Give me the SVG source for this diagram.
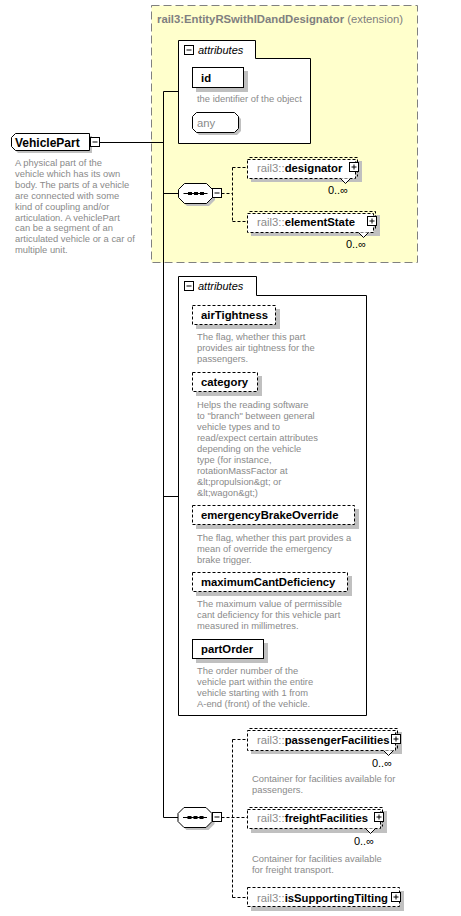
<svg xmlns="http://www.w3.org/2000/svg" width="461" height="916" viewBox="0 0 461 916">
<style>
text{font-family:"Liberation Sans",Arial,sans-serif}
.desc{font-size:9.4px;fill:#8a8a8a}
.lbl{font-size:11.3px;font-weight:bold;fill:#000}
.pfx{font-weight:normal;fill:#8a8a8a}
.mult{font-size:11px;fill:#000}
.ital{font-size:11px;font-style:italic;fill:#000}
.shd{fill:#c0c0c0;stroke:none}
.box{fill:#fff;stroke:#000;stroke-width:1}
.dbox{fill:#fff;stroke:#000;stroke-width:1;stroke-dasharray:3,2}
.ln{fill:none;stroke:#000;stroke-width:1}
.dln{fill:none;stroke:#000;stroke-width:1;stroke-dasharray:3,2}
.ico{fill:#fff;stroke:#000;stroke-width:1}
</style>
<defs>
<g id="minus"><rect class="ico" x="0.5" y="0.5" width="9" height="9"/><path class="ln" d="M2.5,5 H7.5"/></g>
<g id="plus"><rect class="ico" x="0.5" y="0.5" width="9" height="9"/><path class="ln" d="M2.5,5 H7.5 M5,2.5 V7.5"/></g>
<g id="seq">
<path class="shd" d="M9,3 H31 L37,9 V17 L31,23 H9 L3,17 V9 Z"/>
<path class="box" d="M6.5,0.5 H28.5 L34.5,6.5 V14.5 L28.5,20.5 H6.5 L0.5,14.5 V6.5 Z"/>
<path class="ln" d="M5.5,10.5 H29.5"/>
<rect x="10" y="9" width="4" height="3" fill="#000"/>
<rect x="16" y="9" width="4" height="3" fill="#000"/>
<rect x="22" y="9" width="4" height="3" fill="#000"/>
</g>
</defs>

<g id="extension">
<rect x="151.5" y="5.5" width="266" height="257" fill="#ffffcc" stroke="#808080" stroke-width="1" stroke-dasharray="8,4"/>
<text x="157" y="23" style="font-size:11.3px;font-weight:bold;fill:#808080">rail3:EntityRSwithIDandDesignator<tspan style="font-weight:normal"> (extension)</tspan></text>
</g>

<g id="connectors">
<path class="ln" d="M99.5,142.5 H163.5 M163.5,91.5 V817.5 H178 M163.5,91.5 H178.5 M163.5,193.5 H178.5 M163.5,496.5 H178.5"/>
<path class="dln" d="M221.5,193.5 H232.5 M232.5,167.5 V221.5 M232.5,167.5 H247.5 M232.5,221.5 H247.5"/>
<path class="dln" d="M221.5,817.5 H247.5 M232.5,739.5 V897.5 M232.5,739.5 H247.5 M232.5,897.5 H247.5"/>
</g>

<g id="VehiclePart">
<path class="shd" d="M18,136 H92 V153 H18 L14,149 V140 Z"/>
<path class="box" d="M15.5,133.5 H89.5 V150.5 H15.5 L11.5,146.5 V137.5 Z"/>
<text x="15" y="147" style="font-size:12px;font-weight:bold;fill:#000">VehiclePart</text>
<use href="#minus" x="90" y="137"/>
<text class="desc" x="15"><tspan x="15" y="166">A physical part of the</tspan><tspan x="15" y="177">vehicle which has its own</tspan><tspan x="15" y="188">body. The parts of a vehicle</tspan><tspan x="15" y="198.5">are connected with some</tspan><tspan x="15" y="209.5">kind of coupling and/or</tspan><tspan x="15" y="220.5">articulation. A vehiclePart</tspan><tspan x="15" y="231">can be a segment of an</tspan><tspan x="15" y="242">articulated vehicle or a car of</tspan><tspan x="15" y="253">multiple unit.</tspan></text>
</g>

<g id="attributes1">
<path class="box" d="M178.5,143.5 V40.5 H255.5 V58.5 H310.5 V143.5 Z"/>
<use href="#minus" x="184" y="45"/>
<text class="ital" x="198" y="54">attributes</text>
</g>

<g id="id">
<rect class="shd" x="196" y="71" width="52" height="21"/>
<rect class="box" x="192.5" y="67.5" width="51" height="20"/>
<text class="lbl" x="201" y="82">id</text>
<text class="desc" x="197" y="102">the identifier of the object</text>
</g>

<g id="any">
<path class="shd" d="M199,115 H237 L241,119 V131 L237,135 H199 L195,131 V119 Z"/>
<path class="box" d="M196.5,112.5 H234.5 L238.5,116.5 V128.5 L234.5,132.5 H196.5 L192.5,128.5 V116.5 Z"/>
<text x="197" y="127" style="font-size:11.3px;fill:#8a8a8a">any</text>
</g>

<g id="sequence1">
<use href="#seq" x="178" y="183"/>
<use href="#minus" x="212" y="188"/>
</g>

<g id="designator">
<rect class="shd" x="251" y="161" width="111" height="21"/>
<path class="dln" d="M249.5,157.5 H357.5 V176.5"/>
<rect class="dbox" x="247.5" y="159.5" width="108" height="19"/>
<text class="lbl" x="257" y="172"><tspan class="pfx">rail3::</tspan>designator</text>
<use href="#plus" x="349" y="162"/>
<path class="box" d="M340.5,178.5 L345.5,183.5 L350.5,178.5"/>
<text class="mult" x="348" y="194" text-anchor="end">0..∞</text>
</g>

<g id="elementState">
<rect class="shd" x="251" y="215" width="129" height="21"/>
<path class="dln" d="M249.5,211.5 H375.5 V230.5"/>
<rect class="dbox" x="247.5" y="213.5" width="126" height="19"/>
<text class="lbl" x="257" y="226"><tspan class="pfx">rail3::</tspan>elementState</text>
<use href="#plus" x="367" y="216"/>
<path class="box" d="M358.5,232.5 L363.5,237.5 L368.5,232.5"/>
<text class="mult" x="366" y="248" text-anchor="end">0..∞</text>
</g>

<g id="attributes2">
<path class="box" d="M178.5,715.5 V276.5 H256.5 V295.5 H366.5 V715.5 Z"/>
<use href="#minus" x="184" y="281"/>
<text class="ital" x="198" y="290">attributes</text>
</g>

<g id="airTightness">
<rect class="shd" x="196" y="309" width="84" height="20"/>
<rect class="dbox" x="192.5" y="305.5" width="83" height="19"/>
<text class="lbl" x="201" y="319">airTightness</text>
<text class="desc"><tspan x="197" y="340">The flag, whether this part</tspan><tspan x="197" y="351">provides air tightness for the</tspan><tspan x="197" y="362">passengers.</tspan></text>
</g>

<g id="category">
<rect class="shd" x="196" y="376" width="66" height="20"/>
<rect class="dbox" x="192.5" y="372.5" width="65" height="19"/>
<text class="lbl" x="201" y="386">category</text>
<text class="desc"><tspan x="197" y="408">Helps the reading software</tspan><tspan x="197" y="419">to "branch" between general</tspan><tspan x="197" y="429.5">vehicle types and to</tspan><tspan x="197" y="440.5">read/expect certain attributes</tspan><tspan x="197" y="451.5">depending on the vehicle</tspan><tspan x="197" y="462.5">type (for instance,</tspan><tspan x="197" y="473.5">rotationMassFactor at</tspan><tspan x="197" y="484.5">&amp;lt;propulsion&amp;gt; or</tspan><tspan x="197" y="495.5">&amp;lt;wagon&amp;gt;)</tspan></text>
</g>

<g id="emergencyBrakeOverride">
<rect class="shd" x="196" y="509" width="163" height="20"/>
<rect class="dbox" x="192.5" y="505.5" width="162" height="19"/>
<text class="lbl" x="201" y="519">emergencyBrakeOverride</text>
<text class="desc"><tspan x="197" y="541">The flag, whether this part provides a</tspan><tspan x="197" y="552">mean of override the emergency</tspan><tspan x="197" y="562.5">brake trigger.</tspan></text>
</g>

<g id="maximumCantDeficiency">
<rect class="shd" x="196" y="576" width="156" height="20"/>
<rect class="dbox" x="192.5" y="572.5" width="155" height="19"/>
<text class="lbl" x="201" y="586">maximumCantDeficiency</text>
<text class="desc"><tspan x="197" y="607">The maximum value of permissible</tspan><tspan x="197" y="618">cant deficiency for this vehicle part</tspan><tspan x="197" y="629">measured in millimetres.</tspan></text>
</g>

<g id="partOrder">
<rect class="shd" x="196" y="643" width="72" height="20"/>
<rect class="box" x="192.5" y="639.5" width="71" height="19"/>
<text class="lbl" x="201" y="653">partOrder</text>
<text class="desc"><tspan x="197" y="674">The order number of the</tspan><tspan x="197" y="685">vehicle part within the entire</tspan><tspan x="197" y="696">vehicle starting with 1 from</tspan><tspan x="197" y="707">A-end (front) of the vehicle.</tspan></text>
</g>

<g id="sequence2">
<use href="#seq" x="177.5" y="807"/>
<use href="#minus" x="212" y="812"/>
</g>

<g id="passengerFacilities">
<rect class="shd" x="251" y="732" width="151" height="22"/>
<path class="dln" d="M249.5,728.5 H397.5 V748.5"/>
<rect class="dbox" x="247.5" y="730.5" width="148" height="20"/>
<text class="lbl" x="257" y="744"><tspan class="pfx">rail3::</tspan>passengerFacilities</text>
<use href="#plus" x="391" y="734"/>
<path class="box" d="M383.5,750.5 L388.5,755.5 L393.5,750.5"/>
<text class="mult" x="392" y="767" text-anchor="end">0..∞</text>
<text class="desc"><tspan x="252" y="782">Container for facilities available for</tspan><tspan x="252" y="793">passengers.</tspan></text>
</g>

<g id="freightFacilities">
<rect class="shd" x="251" y="811" width="136" height="22"/>
<path class="dln" d="M249.5,807.5 H382.5 V826.5"/>
<rect class="dbox" x="247.5" y="809.5" width="133" height="19"/>
<text class="lbl" x="257" y="822"><tspan class="pfx">rail3::</tspan>freightFacilities</text>
<use href="#plus" x="374" y="812"/>
<path class="box" d="M365.5,828.5 L370.5,833.5 L375.5,828.5"/>
<text class="mult" x="374" y="845" text-anchor="end">0..∞</text>
<text class="desc"><tspan x="252" y="862">Container for facilities available</tspan><tspan x="252" y="873">for freight transport.</tspan></text>
</g>

<g id="isSupportingTilting">
<rect class="shd" x="251" y="891" width="153" height="20"/>
<rect class="dbox" x="247.5" y="887.5" width="152" height="19"/>
<text class="lbl" x="257" y="902"><tspan class="pfx">rail3::</tspan>isSupportingTilting</text>
<use href="#plus" x="391" y="892"/>
</g>
</svg>
